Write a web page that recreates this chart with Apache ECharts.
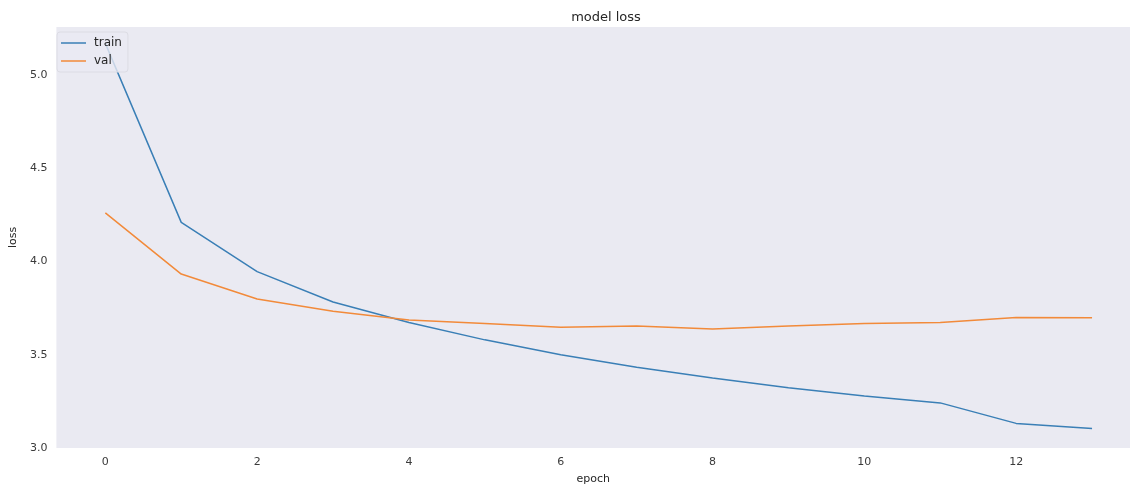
<!DOCTYPE html>
<html>
<head>
<meta charset="utf-8">
<script src="https://cdn.jsdelivr.net/npm/echarts@6/dist/echarts.min.js"></script>
<style>
html,body{margin:0;padding:0;background:#fff;}
#chart{width:1130px;height:490px;}
</style>
</head>
<body>
<div id="chart"></div>
<script>
const epochs = [0,1,2,3,4,5,6,7,8,9,10,11,12,13];
const trainLoss = [5.17,4.21,3.946,3.783,3.673,3.58,3.50,3.433,3.376,3.323,3.279,3.242,3.132,3.105];
const valLoss = [4.261,3.933,3.799,3.733,3.686,3.668,3.647,3.654,3.638,3.654,3.668,3.673,3.700,3.698];
const xTicks = [0,2,4,6,8,10,12];
const yTicks = [3.0,3.5,4.0,4.5,5.0];
const seriesNames = ['train','val'];

const chart = echarts.init(document.getElementById('chart'));
const font = 'DejaVu Sans';
chart.setOption({
  animation:false,
  backgroundColor:'#ffffff',
  title:{text:'model loss',left:601,textAlign:'center',top:6,textStyle:{fontFamily:font,fontSize:13,fontWeight:'normal',color:'#262626'}},
  grid:{left:52,right:0,top:27,bottom:37.5,show:true,backgroundColor:'#eaeaf2',borderWidth:0},
  legend:{orient:'vertical',left:57,top:32,data:seriesNames,icon:'rect',itemWidth:25,itemHeight:1.5,itemGap:6,
    backgroundColor:'rgba(234,234,242,0.8)',borderColor:'#dcdce4',borderWidth:1,borderRadius:3,padding:[5,6,5,4],
    textStyle:{fontFamily:font,fontSize:12,color:'#262626',padding:[0,0,0,3]}},
  xAxis:{type:'value',min:-0.645,max:13.5,
    name:'epoch',nameLocation:'middle',nameGap:26,nameTextStyle:{fontFamily:font,fontSize:11,color:'#262626'},
    axisLine:{show:false},axisTick:{show:false},splitLine:{show:false},
    axisLabel:{customValues:xTicks,margin:9,fontFamily:font,fontSize:11,color:'#3a3a3a'}},
  yAxis:{type:'value',min:3.0,max:5.258,
    name:'loss',nameLocation:'middle',nameGap:33,nameRotate:90,nameTextStyle:{fontFamily:font,fontSize:11,color:'#262626'},
    axisLine:{show:false},axisTick:{show:false},splitLine:{show:false},
    axisLabel:{customValues:yTicks,margin:9,fontFamily:font,fontSize:11,color:'#3a3a3a',formatter:v=>v.toFixed(1)}},
  series:[
    {name:seriesNames[0],type:'line',symbol:'none',color:'#3a7fb6',lineStyle:{width:1.5},data:epochs.map((e,i)=>[e,trainLoss[i]])},
    {name:seriesNames[1],type:'line',symbol:'none',color:'#f28a3a',lineStyle:{width:1.5},data:epochs.map((e,i)=>[e,valLoss[i]])}
  ]
});
</script>
</body>
</html>
